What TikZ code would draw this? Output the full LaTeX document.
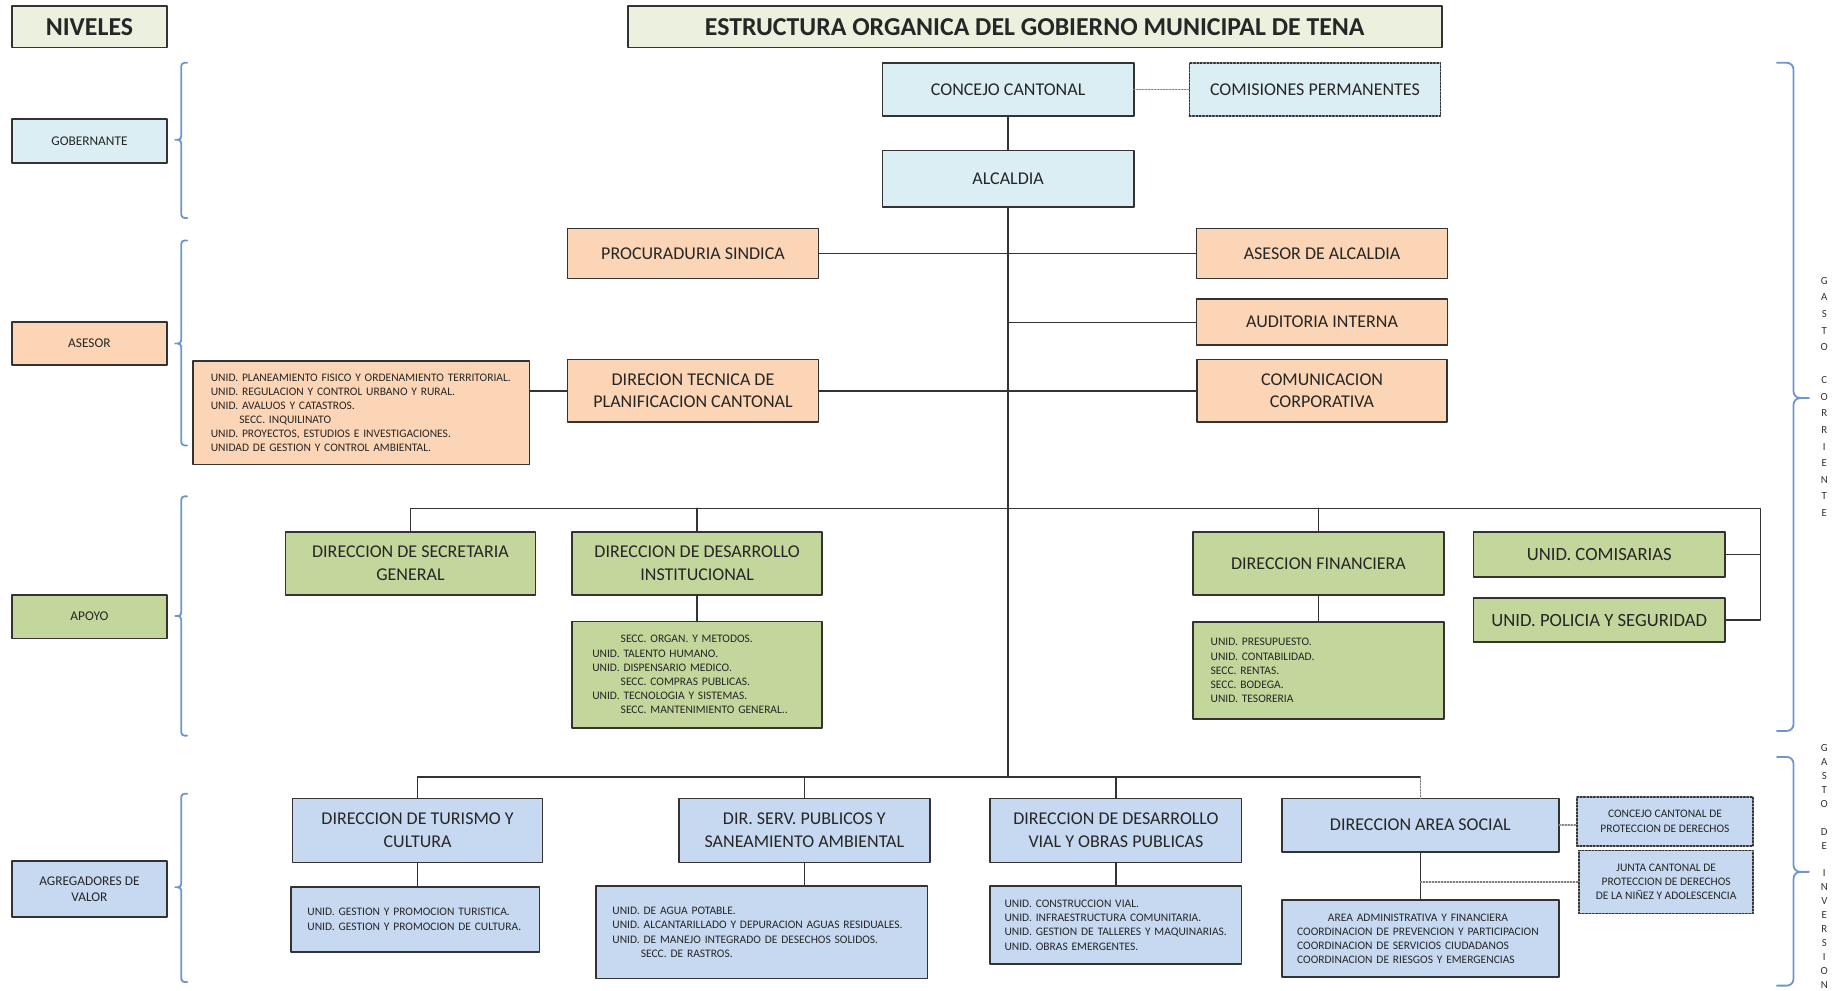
\documentclass[tikz,border=0pt]{standalone}
\usepackage{fontspec}
\setmainfont{Carlito}
\definecolor{azulclaro}{RGB}{219,238,244}
\definecolor{durazno}{RGB}{251,213,181}
\definecolor{verde}{RGB}{195,214,155}
\definecolor{azul}{RGB}{198,217,241}
\definecolor{crema}{RGB}{235,241,222}
\definecolor{llaveazul}{RGB}{110,150,205}

\begin{document}
\begin{tikzpicture}[line cap=round,line join=round,x=0.025cm,y=-0.025cm,
  caja/.style={draw=black!80,line width=1pt,inner sep=0pt,outer sep=0pt,align=center,text=black!85,font=\fontsize{10.8}{13.5}\selectfont},
  nivel/.style={caja,minimum width=3.275cm,font=\fontsize{8}{10}\selectfont},
  lista/.style={caja,align=left,font=\fontsize{6.9}{8.5}\selectfont},
  linea/.style={draw=black!80,line width=0.8pt},
  enlace/.style={draw=black!50,line width=0.8pt,densely dotted},
  llave/.style={draw=llaveazul,line width=1.1pt,rounded corners=2pt},
  letras/.style={align=center,text=black!80,inner sep=0pt}]
      \useasboundingbox (0,0) rectangle (1560,836);
      % encabezados
      \node[caja,fill=crema,minimum width=3.275cm,minimum height=0.875cm,font=\bfseries\fontsize{15.5}{18}\selectfont] (niveles) at (75.5,22.5) {NIVELES};
      \node[caja,fill=crema,minimum width=17.175cm,minimum height=0.875cm,font=\bfseries\fontsize{15.5}{18}\selectfont] (titulo) at (873.5,22.5) {ESTRUCTURA ORGANICA DEL GOBIERNO MUNICIPAL DE TENA};
      % niveles
      \node[nivel,fill=azulclaro,minimum height=0.925cm] (gobernante) at (75.5,119) {GOBERNANTE};
      \node[nivel,fill=durazno,minimum height=0.9cm] (asesor) at (75.5,290) {ASESOR};
      \node[nivel,fill=verde,minimum height=0.925cm] (apoyo) at (75.5,520.5) {APOYO};
      \node[nivel,fill=azul,minimum height=1.175cm] (agregadores) at (75.5,750.5) {AGREGADORES DE\\VALOR};
      \draw[llave] (158,53) -- (153,53) -- (153,118) -- (148,118) (148,118) -- (153,118) -- (153,184) -- (158,184);
      \draw[llave] (158,203) -- (153,203) -- (153,290) -- (148,290) (148,290) -- (153,290) -- (153,376) -- (158,376);
      \draw[llave] (158,419) -- (153,419) -- (153,520) -- (148,520) (148,520) -- (153,520) -- (153,621) -- (158,621);
      \draw[llave] (158,670) -- (153,670) -- (153,749) -- (148,749) (148,749) -- (153,749) -- (153,829) -- (158,829);
      % gobernante
      \node[caja,fill=azulclaro,minimum width=5.3cm,minimum height=1.125cm] (concejo) at (851,75.5) {CONCEJO CANTONAL};
      \node[caja,densely dotted,fill=azulclaro,minimum width=5.3cm,minimum height=1.125cm] (comisiones) at (1110,75.5) {COMISIONES PERMANENTES};
      \node[caja,fill=azulclaro,minimum width=5.3cm,minimum height=1.2cm] (alcaldia) at (851,151) {ALCALDIA};
      % asesor
      \node[caja,fill=durazno,minimum width=5.3cm,minimum height=1.05cm] (procuraduria) at (585,214) {PROCURADURIA SINDICA};
      \node[caja,fill=durazno,minimum width=5.3cm,minimum height=1.05cm] (asesoralc) at (1116,214) {ASESOR DE ALCALDIA};
      \node[caja,fill=durazno,minimum width=5.3cm,minimum height=0.975cm] (auditoria) at (1116,272) {AUDITORIA INTERNA};
      \node[caja,fill=durazno,minimum width=5.3cm,minimum height=1.325cm] (dtp) at (585,330) {DIRECION TECNICA DE\\PLANIFICACION CANTONAL};
      \node[caja,fill=durazno,minimum width=5.275cm,minimum height=1.325cm] (comunicacion) at (1116,330) {COMUNICACION\\CORPORATIVA};
      \node[lista,fill=durazno,inner xsep=0.375cm,text width=6.35cm,minimum height=2.175cm] (planeamiento) at (305,348.5) {UNID. PLANEAMIENTO FISICO Y ORDENAMIENTO TERRITORIAL.\\UNID. REGULACION Y CONTROL URBANO Y RURAL.\\UNID. AVALUOS Y CATASTROS.\\\hspace*{0.6cm}SECC. INQUILINATO\\UNID. PROYECTOS, ESTUDIOS E INVESTIGACIONES.\\UNIDAD DE GESTION Y CONTROL AMBIENTAL.};
      % apoyo
      \node[caja,fill=verde,minimum width=5.275cm,minimum height=1.325cm] (secretaria) at (346.5,475.5) {DIRECCION DE SECRETARIA\\GENERAL};
      \node[caja,fill=verde,minimum width=5.275cm,minimum height=1.325cm] (desinst) at (588.5,475.5) {DIRECCION DE DESARROLLO\\INSTITUCIONAL};
      \node[lista,fill=verde,inner xsep=0.425cm,text width=4.425cm,minimum height=2.2375cm] (desinstsub) at (588.5,569.5) {\hspace*{0.6cm}SECC. ORGAN. Y METODOS.\\UNID. TALENTO HUMANO.\\UNID. DISPENSARIO MEDICO.\\\hspace*{0.6cm}SECC. COMPRAS PUBLICAS.\\UNID. TECNOLOGIA Y SISTEMAS.\\\hspace*{0.6cm}SECC. MANTENIMIENTO GENERAL..};
      \node[caja,fill=verde,minimum width=5.3cm,minimum height=1.325cm] (financiera) at (1113,475.5) {DIRECCION FINANCIERA};
      \node[lista,fill=verde,inner xsep=0.375cm,text width=4.55cm,minimum height=2.05cm] (finsub) at (1113,566) {UNID. PRESUPUESTO.\\UNID. CONTABILIDAD.\\SECC. RENTAS.\\SECC. BODEGA.\\UNID. TESORERIA};
      \node[caja,fill=verde,minimum width=5.3cm,minimum height=0.95cm,font=\fontsize{11.2}{13.5}\selectfont] (comisarias) at (1350,468) {UNID. COMISARIAS};
      \node[caja,fill=verde,minimum width=5.3cm,minimum height=0.925cm,font=\fontsize{11.2}{13.5}\selectfont] (policia) at (1350,523.5) {UNID. POLICIA Y SEGURIDAD};
      % agregadores de valor
      \node[caja,fill=azul,minimum width=5.275cm,minimum height=1.35cm] (turismo) at (352.5,701) {DIRECCION DE TURISMO Y\\CULTURA};
      \node[lista,fill=azul,inner xsep=0.35cm,text width=4.55cm,minimum height=1.375cm] (tursub) at (350.5,776) {UNID. GESTION Y PROMOCION TURISTICA.\\UNID. GESTION Y PROMOCION DE CULTURA.};
      \node[caja,fill=azul,minimum width=5.3cm,minimum height=1.35cm] (servicios) at (679,701) {DIR. SERV. PUBLICOS Y\\SANEAMIENTO AMBIENTAL};
      \node[lista,fill=azul,inner xsep=0.35cm,text width=6.3cm,minimum height=1.95cm] (servsub) at (643,787) {UNID. DE AGUA POTABLE.\\UNID. ALCANTARILLADO Y DEPURACION AGUAS RESIDUALES.\\UNID. DE MANEJO INTEGRADO DE DESECHOS SOLIDOS.\\\hspace*{0.6cm}SECC. DE RASTROS.};
      \node[caja,fill=azul,minimum width=5.3cm,minimum height=1.35cm] (vial) at (942,701) {DIRECCION DE DESARROLLO\\VIAL Y OBRAS PUBLICAS};
      \node[lista,fill=azul,inner xsep=0.3cm,text width=4.7cm,minimum height=1.65cm] (vialsub) at (942,781) {UNID. CONSTRUCCION VIAL.\\UNID. INFRAESTRUCTURA COMUNITARIA.\\UNID. GESTION DE TALLERES Y MAQUINARIAS.\\UNID. OBRAS EMERGENTES.};
      \node[caja,fill=azul,minimum width=5.85cm,minimum height=1.125cm] (social) at (1199,696.5) {DIRECCION AREA SOCIAL};
      \node[lista,fill=azul,inner xsep=0.325cm,text width=5.2cm,minimum height=1.625cm] (socialsub) at (1199,792.5) {\hspace*{0.65cm}AREA ADMINISTRATIVA Y FINANCIERA\\COORDINACION DE PREVENCION Y PARTICIPACION\\COORDINACION DE SERVICIOS CIUDADANOS\\COORDINACION DE RIESGOS Y EMERGENCIAS};
      \node[caja,densely dotted,fill=azul,minimum width=3.725cm,minimum height=1.025cm,font=\fontsize{6.9}{9}\selectfont] (concejoprot) at (1405.5,693.5) {CONCEJO CANTONAL DE\\PROTECCION DE DERECHOS};
      \node[caja,densely dotted,fill=azul,minimum width=3.675cm,minimum height=1.325cm,font=\fontsize{6.9}{8.6}\selectfont] (junta) at (1406.5,744.5) {JUNTA CANTONAL DE\\PROTECCION DE DERECHOS\\DE LA NIÑEZ Y ADOLESCENCIA};
      % conectores
      \coordinate (esqA) at (1486,429);
      \coordinate (esqB) at (851,656);
      \draw[enlace] (concejo.east) -- (comisiones.west);
      \draw[linea] (concejo.south) -- (alcaldia.north);
      \draw[linea] (alcaldia.south) -- (esqB);
      \draw[linea] (procuraduria.east) -- (asesoralc.west);
      \draw[linea] (alcaldia.south |- auditoria.west) -- (auditoria.west);
      \draw[linea] (dtp.east) -- (comunicacion.west);
      \draw[linea] (dtp.west -| planeamiento.east) -- (dtp.west);
      \draw[linea] (secretaria.north) |- (esqA) |- (policia.east);
      \draw[linea] (desinst.north) -- (desinst.north |- esqA);
      \draw[linea] (financiera.north) -- (financiera.north |- esqA);
      \draw[linea] (comisarias.east) -- (comisarias.east -| esqA);
      \draw[linea] (desinst.south) -- (desinstsub.north);
      \draw[linea] (financiera.south) -- (finsub.north);
      \draw[linea] (turismo.north) |- (esqB) -- (esqB -| social.north);
      \draw[linea] (servicios.north) -- (servicios.north |- esqB);
      \draw[linea] (vial.north) -- (vial.north |- esqB);
      \draw[enlace] (esqB -| social.north) -- (social.north);
      \draw[linea] (turismo.south) -- (turismo.south |- tursub.north);
      \draw[linea] (servicios.south) -- (servicios.south |- servsub.north);
      \draw[linea] (vial.south) -- (vialsub.north);
      \draw[linea] (social.south) -- (socialsub.north);
      \draw[enlace] (social.east) -- (social.east -| concejoprot.west);
      \draw[enlace] (social.south |- junta.west) -- (junta.west);
      % gasto
      \draw[llave,rounded corners=4pt] (1500,53) -- (1514,53) -- (1514,336) -- (1527,336) (1527,336) -- (1514,336) -- (1514,617) -- (1500,617);
      \draw[llave,rounded corners=4pt] (1500,639) -- (1514,639) -- (1514,736) -- (1527,736) (1527,736) -- (1514,736) -- (1514,832) -- (1500,832);
      \node[letras,font=\fontsize{6.5}{9.96}\selectfont] (gastocorriente) at (1540,335) {G\\A\\S\\T\\O\\~\\C\\O\\R\\R\\I\\E\\N\\T\\E};
      \node[letras,font=\fontsize{6.5}{8.36}\selectfont] (gastoinversion) at (1540,731.4) {G\\A\\S\\T\\O\\~\\D\\E\\~\\I\\N\\V\\E\\R\\S\\I\\O\\N};
\end{tikzpicture}
\end{document}
